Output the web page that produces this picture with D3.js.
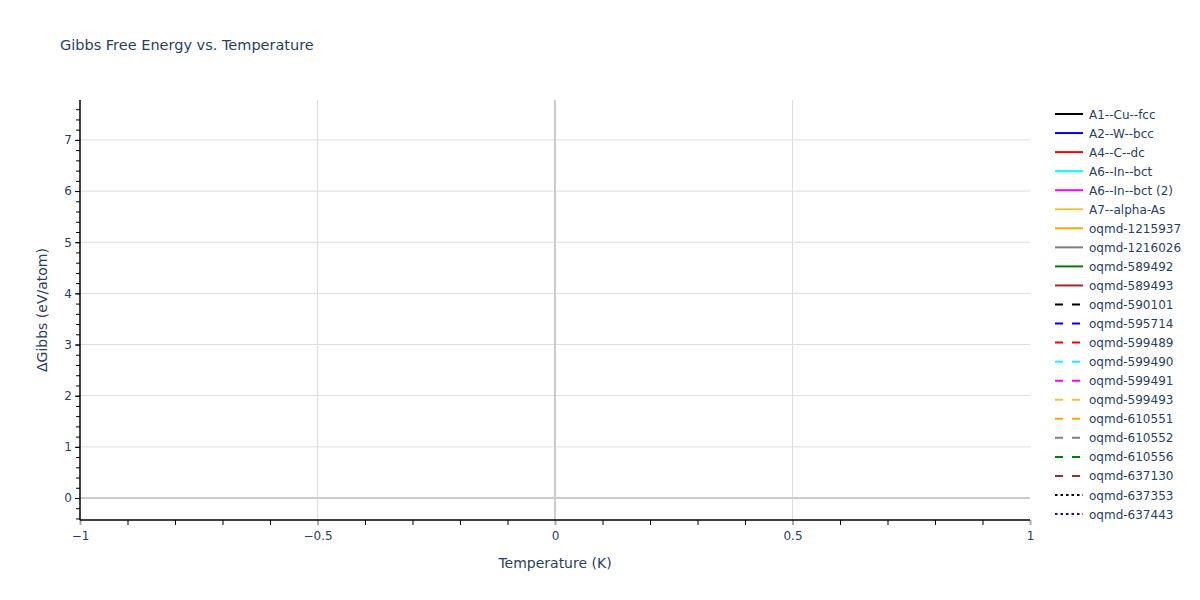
<!DOCTYPE html>
<html><head><meta charset="utf-8">
<script src="https://cdn.jsdelivr.net/npm/d3@7"></script>
<style>body{margin:0;background:#fff}svg text{font-family:"DejaVu Sans",Verdana,sans-serif;fill:#2a3f5f}</style>
</head><body>
<svg id="c" width="1200" height="600"></svg>
<script>
const seriesNames = ["A1--Cu--fcc","A2--W--bcc","A4--C--dc","A6--In--bct","A6--In--bct (2)","A7--alpha-As","oqmd-1215937","oqmd-1216026","oqmd-589492","oqmd-589493","oqmd-590101","oqmd-595714","oqmd-599489","oqmd-599490","oqmd-599491","oqmd-599493","oqmd-610551","oqmd-610552","oqmd-610556","oqmd-637130","oqmd-637353","oqmd-637443"];
const seriesColors = ["#000000","#0000ff","#ff0000","#00ffff","#ff00ff","#f0c43c","#ffa500","#808080","#008000","#a52a2a","#000000","#0000ff","#ff0000","#00ffff","#ff00ff","#f0c43c","#ffa500","#808080","#008000","#a52a2a","#000000","#0000ff"];
const seriesDash = ["solid","solid","solid","solid","solid","solid","solid","solid","solid","solid","dash","dash","dash","dash","dash","dash","dash","dash","dash","dash","dot","dot"];
const xDomain = [-1, 1];
const yDomain = [-0.43, 7.78];
const xTicks = [-1, -0.5, 0, 0.5, 1];
const yTicks = [0, 1, 2, 3, 4, 5, 6, 7];

const svg = d3.select("#c");
const L = 80, R = 1030, T = 100, B = 520;
const x = d3.scaleLinear().domain(xDomain).range([L, R]);
const y = d3.scaleLinear().domain(yDomain).range([B, T]);

// gridlines
svg.append("g").selectAll("line").data(xTicks.filter(d => d !== 0 && d !== -1 && d !== 1)).join("line")
  .attr("x1", d => x(d)).attr("x2", d => x(d)).attr("y1", T).attr("y2", B)
  .attr("stroke", "#dddddd").attr("stroke-width", 1);
svg.append("g").selectAll("line").data(yTicks.filter(d => d !== 0)).join("line")
  .attr("x1", L).attr("x2", R).attr("y1", d => y(d)).attr("y2", d => y(d))
  .attr("stroke", "#dddddd").attr("stroke-width", 1);
// zero lines
svg.append("line").attr("x1", L).attr("x2", R).attr("y1", y(0)).attr("y2", y(0)).attr("stroke", "#cccccc").attr("stroke-width", 2);
svg.append("line").attr("x1", x(0)).attr("x2", x(0)).attr("y1", T).attr("y2", B).attr("stroke", "#cccccc").attr("stroke-width", 2);

// x axis
const xMinor = d3.range(-10, 11).map(i => i / 10).filter(v => xTicks.indexOf(v) < 0);
const gx = svg.append("g").attr("transform", `translate(0,${B})`);
gx.call(d3.axisBottom(x).tickValues(xMinor).tickSize(5).tickFormat(""));
gx.select(".domain").remove();
gx.selectAll(".tick line").attr("stroke", "#000");
const gx2 = svg.append("g").attr("transform", `translate(0,${B})`);
gx2.call(d3.axisBottom(x).tickValues(xTicks).tickSize(5).tickPadding(6).tickFormat(d => d3.format("")(d).replace("-", "\u2212")));
gx2.select(".domain").remove();
gx2.selectAll(".tick line").attr("stroke", "#aaaaaa").attr("stroke-width", 2);
gx2.selectAll(".tick text").attr("font-size", 12).style("font-family", '"DejaVu Sans",Verdana,sans-serif').attr("fill", "#2a3f5f");
svg.append("line").attr("x1", L).attr("x2", R).attr("y1", B).attr("y2", B).attr("stroke", "#000").attr("stroke-width", 1.5);

// y axis
const yMinor = d3.range(-2, 39).map(i => i / 5).filter(v => v >= yDomain[0] && v <= yDomain[1]);
const gy = svg.append("g").attr("transform", `translate(${L},0)`);
gy.call(d3.axisLeft(y).tickValues(yMinor).tickSize(4).tickFormat(""));
gy.select(".domain").remove();
gy.selectAll(".tick line").attr("stroke", "#000");
const gy2 = svg.append("g").attr("transform", `translate(${L},0)`);
gy2.call(d3.axisLeft(y).tickValues(yTicks).tickSize(5).tickPadding(3).tickFormat(d3.format("d")));
gy2.select(".domain").remove();
gy2.selectAll(".tick line").attr("stroke", "#000");
gy2.selectAll(".tick text").attr("font-size", 12).style("font-family", '"DejaVu Sans",Verdana,sans-serif').attr("fill", "#2a3f5f");
svg.append("line").attr("x1", L).attr("x2", L).attr("y1", T).attr("y2", B).attr("stroke", "#000").attr("stroke-width", 1.5);

// titles
svg.append("text").attr("x", 60).attr("y", 50).attr("font-size", 14.5).text("Gibbs Free Energy vs. Temperature");
svg.append("text").attr("x", (L + R) / 2).attr("y", 568).attr("text-anchor", "middle").attr("font-size", 14).text("Temperature (K)");
svg.append("text").attr("transform", `translate(47,${(T + B) / 2}) rotate(-90)`).attr("text-anchor", "middle").attr("font-size", 14).text("\u0394Gibbs (eV/atom)");

// legend
const dashMap = {solid: null, dash: "8,9", dot: "2.5,3"};
const lg = svg.append("g");
const rows = lg.selectAll("g").data(seriesNames).join("g")
  .attr("transform", (d, i) => `translate(1055,${114 + i * 19.05})`);
rows.append("line").attr("x1", 0).attr("x2", 28).attr("y1", 0).attr("y2", 0)
  .attr("stroke", (d, i) => seriesColors[i]).attr("stroke-width", 2)
  .attr("stroke-dasharray", (d, i) => dashMap[seriesDash[i]]);
rows.append("text").attr("x", 34).attr("y", 4.5).attr("font-size", 12).text(d => d);
</script>
</body></html>
